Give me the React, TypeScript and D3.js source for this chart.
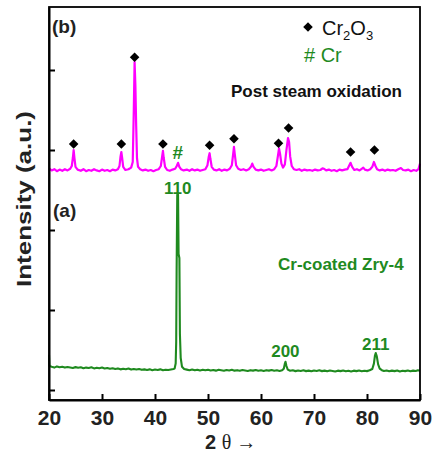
import React, { useEffect, useRef } from "react";
import * as d3 from "d3";

const xTicks = [20, 30, 40, 50, 60, 70, 80, 90];
const yTicks = [0, 1000, 2000, 3000, 4000];

// (b) post steam oxidation scan, [2theta, counts]
const oxidizedScan: [number, number][] = [
  [20.0, 2770], [20.5, 2745], [21.0, 2760], [21.5, 2735], [22.0, 2755], [22.5, 2740],
  [23.0, 2760], [23.5, 2745], [24.0, 2765], [24.3, 2800], [24.5, 2900], [24.65, 3000],
  [24.8, 2900], [25.0, 2790], [25.4, 2755], [26.0, 2740], [26.5, 2760], [27.0, 2735],
  [27.5, 2750], [28.0, 2740], [28.5, 2760], [29.0, 2745], [29.5, 2735], [30.0, 2755],
  [30.5, 2740], [31.0, 2750], [31.5, 2735], [32.0, 2755], [32.5, 2745], [33.0, 2760],
  [33.3, 2800], [33.5, 2920], [33.65, 2975], [33.8, 2900], [34.0, 2790], [34.4, 2750],
  [35.0, 2760], [35.5, 2780], [35.8, 2850], [36.0, 3500], [36.15, 4100], [36.3, 3800],
  [36.45, 3300], [36.6, 2900], [36.8, 2790], [37.2, 2760], [37.7, 2745], [38.2, 2755],
  [38.7, 2740], [39.2, 2750], [39.7, 2735], [40.2, 2750], [40.7, 2760], [41.1, 2800],
  [41.35, 2920], [41.5, 2990], [41.65, 2900], [41.9, 2790], [42.3, 2750], [42.8, 2740],
  [43.3, 2755], [43.8, 2765], [44.1, 2800], [44.35, 2840], [44.6, 2790], [44.9, 2760],
  [45.4, 2745], [46.0, 2755], [46.5, 2740], [47.0, 2760], [47.5, 2745], [48.0, 2755],
  [48.5, 2740], [49.0, 2750], [49.5, 2760], [49.9, 2810], [50.15, 2920], [50.3, 2960],
  [50.45, 2890], [50.7, 2790], [51.1, 2755], [51.6, 2745], [52.1, 2760], [52.6, 2740],
  [53.1, 2755], [53.6, 2745], [54.1, 2765], [54.5, 2810], [54.75, 2950], [54.9, 3040],
  [55.05, 2950], [55.3, 2810], [55.7, 2765], [56.2, 2750], [56.7, 2760], [57.2, 2745],
  [57.7, 2760], [58.1, 2790], [58.35, 2830], [58.6, 2790], [59.0, 2755], [59.5, 2745],
  [60.0, 2755], [60.5, 2740], [61.0, 2750], [61.5, 2760], [62.0, 2745], [62.5, 2760],
  [62.9, 2800], [63.2, 2930], [63.4, 3020], [63.6, 2950], [63.85, 2830], [64.15, 2780],
  [64.5, 2820], [64.8, 3000], [65.1, 3150], [65.3, 3100], [65.5, 2920], [65.8, 2800],
  [66.2, 2760], [66.7, 2750], [67.2, 2760], [67.7, 2740], [68.2, 2755], [68.7, 2745],
  [69.2, 2750], [69.7, 2740], [70.2, 2755], [70.7, 2745], [71.2, 2750], [71.6, 2770],
  [71.9, 2765], [72.3, 2745], [72.8, 2755], [73.3, 2740], [73.8, 2750], [74.3, 2735],
  [74.8, 2755], [75.3, 2745], [75.8, 2755], [76.3, 2760], [76.6, 2800], [76.9, 2840],
  [77.2, 2790], [77.6, 2750], [78.1, 2760], [78.6, 2745], [79.0, 2765], [79.3, 2780],
  [79.6, 2755], [80.1, 2745], [80.6, 2760], [81.0, 2790], [81.3, 2850], [81.6, 2800],
  [81.9, 2760], [82.4, 2745], [82.9, 2755], [83.4, 2740], [83.9, 2755], [84.4, 2745],
  [84.9, 2750], [85.4, 2740], [85.9, 2760], [86.4, 2775], [86.8, 2750], [87.3, 2745],
  [87.8, 2755], [88.3, 2735], [88.8, 2750], [89.3, 2740], [89.7, 2760], [90.0, 2830],
];

// (a) as-coated scan
const coatedScan: [number, number][] = [
  [20.0, 440], [20.08, 300], [20.5, 290], [21.0, 280], [21.5, 295], [22.0, 285],
  [22.5, 290], [23.0, 280], [23.5, 288], [24.0, 282], [24.5, 276], [25.0, 286],
  [25.5, 278], [26.0, 284], [26.5, 272], [27.0, 280], [27.5, 275], [28.0, 284],
  [28.5, 270], [29.0, 278], [29.5, 272], [30.0, 280], [30.5, 268], [31.0, 275],
  [31.5, 265], [32.0, 272], [32.5, 262], [33.0, 270], [33.5, 258], [34.0, 266],
  [34.5, 260], [35.0, 268], [35.5, 255], [36.0, 263], [36.5, 256], [37.0, 262],
  [37.5, 252], [38.0, 258], [38.5, 250], [39.0, 258], [39.5, 248], [40.0, 256],
  [40.5, 250], [41.0, 258], [41.5, 246], [42.0, 254], [42.5, 250], [43.0, 256],
  [43.5, 262], [43.7, 270], [43.9, 330], [44.0, 600], [44.08, 1500], [44.2, 2440],
  [44.35, 2440], [44.45, 1700], [44.6, 1650], [44.7, 700], [44.85, 400], [45.1, 290],
  [45.5, 262], [46.0, 255], [46.5, 248], [47.0, 256], [47.5, 246], [48.0, 254],
  [48.5, 244], [49.0, 252], [49.5, 246], [50.0, 254], [50.5, 244], [51.0, 250],
  [51.5, 242], [52.0, 252], [52.5, 246], [53.0, 240], [53.5, 250], [54.0, 244],
  [54.5, 252], [55.0, 242], [55.5, 248], [56.0, 240], [56.5, 250], [57.0, 244],
  [57.5, 238], [58.0, 248], [58.5, 242], [59.0, 250], [59.5, 240], [60.0, 246],
  [60.5, 238], [61.0, 248], [61.5, 242], [62.0, 250], [62.5, 240], [63.0, 246],
  [63.5, 238], [64.0, 248], [64.3, 265], [64.5, 330], [64.62, 352], [64.8, 300],
  [65.05, 255], [65.5, 240], [66.0, 246], [66.5, 236], [67.0, 244], [67.5, 238],
  [68.0, 246], [68.5, 236], [69.0, 242], [69.5, 234], [70.0, 244], [70.5, 238],
  [71.0, 246], [71.5, 236], [72.0, 242], [72.5, 234], [73.0, 244], [73.5, 238],
  [74.0, 232], [74.5, 242], [75.0, 236], [75.5, 244], [76.0, 234], [76.5, 240],
  [77.0, 232], [77.5, 242], [78.0, 236], [78.5, 244], [79.0, 234], [79.5, 240],
  [80.0, 236], [80.5, 246], [81.0, 262], [81.3, 330], [81.5, 430], [81.65, 462],
  [81.85, 420], [82.1, 320], [82.4, 268], [82.8, 248], [83.2, 238], [83.7, 244],
  [84.2, 234], [84.7, 242], [85.2, 236], [85.7, 244], [86.2, 232], [86.7, 240],
  [87.2, 236], [87.7, 244], [88.2, 234], [88.7, 242], [89.2, 238], [89.6, 246],
  [90.0, 240],
];

// Cr2O3 reflections marked with diamonds
const cr2o3Peaks = [24.65, 33.65, 36.15, 41.5, 50.3, 54.9, 63.3, 65.2, 76.9, 81.4];
const cr2o3MarkLevel = [3075, 3075, 4160, 3075, 3060, 3140, 3085, 3275, 2975, 3000];

// Cr reflections (a) and their labels
const crPeaks = [44.3, 64.6, 81.65];
const crLabels = ["110", "200", "211"];
const crLabelLevel = [2450, 410, 500];
const crMarkOxidized = { pos: 44.3, level: 2890 };

const magenta = "#ff00ff";
const green = "#1f8a1f";
const sans = "'Liberation Sans', Arial, sans-serif";
const serif = "'Liberation Serif', 'Times New Roman', serif";

export default function App() {
  const ref = useRef<SVGSVGElement>(null);

  useEffect(() => {
    const svg = d3.select(ref.current);
    svg.selectAll("*").remove();

    const left = 49, right = 420, top = 7, bottom = 400;
    const x = d3.scaleLinear().domain([20, 90]).range([left, right]);
    const y = d3.scaleLinear().domain([-125, 4787.5]).range([bottom, top]);

    const line = d3.line<[number, number]>().x(d => x(d[0])).y(d => y(d[1]));

    svg.append("path").datum(coatedScan)
      .attr("d", line).attr("fill", "none")
      .attr("stroke", green).attr("stroke-width", 2.1).attr("stroke-linejoin", "round");

    svg.append("path").datum(oxidizedScan)
      .attr("d", line).attr("fill", "none")
      .attr("stroke", magenta).attr("stroke-width", 2.2).attr("stroke-linejoin", "round");

    // axes
    const xAxis = svg.append("g").attr("transform", `translate(0,${bottom})`)
      .call(d3.axisBottom(x).tickValues(xTicks).tickSizeInner(-6).tickSizeOuter(0).tickPadding(10));
    xAxis.selectAll("text")
      .attr("font-family", sans).attr("font-size", 21).attr("font-weight", "bold").attr("fill", "#222");

    const yAxis = svg.append("g").attr("transform", `translate(${left},0)`)
      .call(d3.axisLeft(y).tickValues(yTicks).tickSizeInner(-6).tickSizeOuter(0).tickFormat(() => ""));

    [xAxis, yAxis].forEach(a => {
      a.selectAll("line").attr("stroke", "#000").attr("stroke-width", 2);
      a.select(".domain").attr("stroke", "#000").attr("stroke-width", 2);
    });

    svg.append("rect")
      .attr("x", left).attr("y", top).attr("width", right - left).attr("height", bottom - top)
      .attr("fill", "none").attr("stroke", "#000").attr("stroke-width", 1.8);

    // markers
    const diamond = d3.symbol().type(d3.symbolSquare).size(46);
    svg.selectAll(".mark").data(cr2o3Peaks).join("path")
      .attr("class", "mark")
      .attr("d", diamond)
      .attr("transform", (d, i) => `translate(${x(d)},${y(cr2o3MarkLevel[i])}) rotate(45)`)
      .attr("fill", "#000");

    svg.append("text")
      .attr("x", x(crMarkOxidized.pos)).attr("y", y(crMarkOxidized.level))
      .attr("text-anchor", "middle").attr("font-family", sans).attr("font-size", 19)
      .attr("font-weight", "bold").attr("fill", green).text("#");

    svg.selectAll(".hkl").data(crPeaks).join("text")
      .attr("class", "hkl")
      .attr("x", d => x(d)).attr("y", (d, i) => y(crLabelLevel[i]))
      .attr("text-anchor", "middle").attr("font-family", sans).attr("font-size", 17)
      .attr("font-weight", "bold").attr("fill", green)
      .text((d, i) => crLabels[i]);

    // panel labels
    const label = (tx: number, ty: number, s: string, color: string, size = 17) =>
      svg.append("text").attr("x", tx).attr("y", ty)
        .attr("font-family", sans).attr("font-size", size).attr("font-weight", "bold")
        .attr("fill", color).text(s);

    label(52, 33, "(b)", "#222", 19);
    label(53, 217, "(a)", "#222", 19);
    label(231, 97, "Post steam oxidation", "#111");
    label(278, 270, "Cr-coated Zry-4", green);

    // legend
    svg.append("path").attr("d", diamond)
      .attr("transform", "translate(308,27) rotate(45)").attr("fill", "#000");
    const lg = svg.append("text").attr("x", 322).attr("y", 35)
      .attr("font-family", sans).attr("font-size", 20).attr("fill", "#111");
    lg.append("tspan").text("Cr");
    lg.append("tspan").attr("font-size", 13).attr("dy", 5).text("2");
    lg.append("tspan").attr("dy", -5).text("O");
    lg.append("tspan").attr("font-size", 13).attr("dy", 5).text("3");

    svg.append("text").attr("x", 304).attr("y", 62)
      .attr("font-family", sans).attr("font-size", 20).attr("fill", green).text("# Cr");

    // axis titles
    svg.append("text")
      .attr("transform", "translate(31,199) rotate(-90)")
      .attr("text-anchor", "middle").attr("font-family", sans).attr("font-size", 20)
      .attr("font-weight", "bold").attr("fill", "#222")
      .attr("textLength", 176).attr("lengthAdjust", "spacingAndGlyphs")
      .text("Intensity (a.u.)");

    const xt = svg.append("text").attr("x", 205).attr("y", 449).attr("fill", "#222").attr("font-size", 20);
    xt.append("tspan").attr("font-family", sans).attr("font-weight", "bold").text("2 ");
    xt.append("tspan").attr("font-family", serif).text("\u03b8 \u2192");
  }, []);

  return (
    <svg ref={ref} width={432} height={452}
      style={{ position: "absolute", left: 0, top: 0, background: "#fff" }} />
  );
}
